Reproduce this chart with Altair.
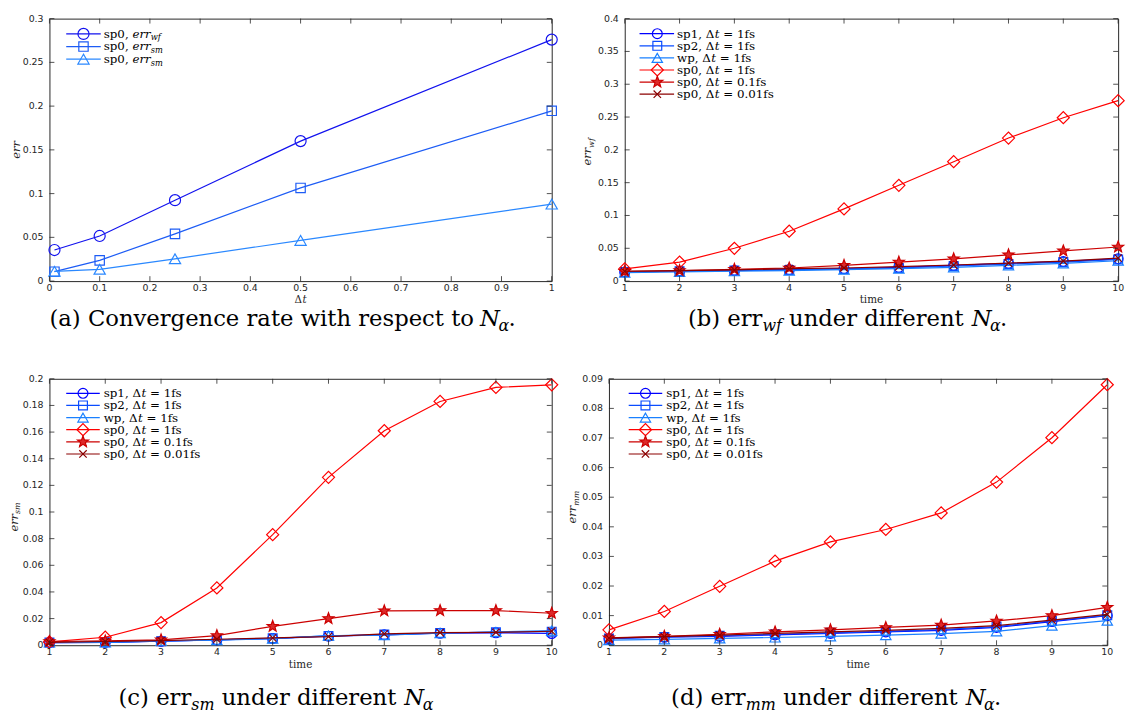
import math
import pandas as pd
import altair as alt

# ---------------- data ----------------
dt_values = [0.01, 0.1, 0.25, 0.5, 1.0]
a_err_wf = [0.0355, 0.0516, 0.0925, 0.1600, 0.2760]
a_err_sm = [0.0108, 0.0237, 0.0540, 0.1065, 0.1946]
a_err_mm = [0.0112, 0.0135, 0.0255, 0.0465, 0.0880]

time_steps = [1, 2, 3, 4, 5, 6, 7, 8, 9, 10]

b_sp1 = [0.0140, 0.0150, 0.0162, 0.0175, 0.0190, 0.0210, 0.0240, 0.0270, 0.0300, 0.0340]
b_sp2 = [0.0140, 0.0150, 0.0160, 0.0170, 0.0185, 0.0200, 0.0230, 0.0260, 0.0290, 0.0330]
b_wp = [0.0130, 0.0140, 0.0150, 0.0160, 0.0175, 0.0190, 0.0210, 0.0240, 0.0270, 0.0310]
b_sp0_1 = [0.0186, 0.0290, 0.0500, 0.0760, 0.1100, 0.1460, 0.1820, 0.2180, 0.2490, 0.2750]
b_sp0_01 = [0.0150, 0.0160, 0.0180, 0.0200, 0.0240, 0.0290, 0.0340, 0.0400, 0.0460, 0.0520]
b_sp0_001 = [0.0150, 0.0160, 0.0170, 0.0190, 0.0200, 0.0220, 0.0245, 0.0275, 0.0305, 0.0350]

c_sp1 = [0.0020, 0.0022, 0.0030, 0.0040, 0.0050, 0.0068, 0.0078, 0.0090, 0.0093, 0.0088]
c_sp2 = [0.0020, 0.0022, 0.0030, 0.0040, 0.0052, 0.0070, 0.0080, 0.0092, 0.0098, 0.0102]
c_wp = [0.0021, 0.0021, 0.0032, 0.0038, 0.0050, 0.0072, 0.0075, 0.0090, 0.0100, 0.0110]
c_sp0_1 = [0.0025, 0.0060, 0.0170, 0.0430, 0.0830, 0.1260, 0.1610, 0.1830, 0.1935, 0.1955]
c_sp0_01 = [0.0028, 0.0032, 0.0040, 0.0072, 0.0142, 0.0200, 0.0258, 0.0260, 0.0260, 0.0240]
c_sp0_001 = [0.0022, 0.0028, 0.0035, 0.0045, 0.0055, 0.0065, 0.0085, 0.0095, 0.0097, 0.0105]

d_sp1 = [0.0022, 0.0027, 0.0030, 0.0035, 0.0040, 0.0045, 0.0050, 0.0060, 0.0080, 0.0100]
d_sp2 = [0.0023, 0.0028, 0.0032, 0.0037, 0.0042, 0.0047, 0.0053, 0.0063, 0.0082, 0.0101]
d_wp = [0.0017, 0.0020, 0.0023, 0.0026, 0.0030, 0.0034, 0.0039, 0.0047, 0.0066, 0.0083]
d_sp0_1 = [0.0052, 0.0114, 0.0199, 0.0284, 0.0349, 0.0391, 0.0447, 0.0551, 0.0701, 0.0880]
d_sp0_01 = [0.0025, 0.0030, 0.0037, 0.0045, 0.0052, 0.0060, 0.0068, 0.0082, 0.0100, 0.0128]
d_sp0_001 = [0.0024, 0.0029, 0.0034, 0.0040, 0.0045, 0.0050, 0.0057, 0.0066, 0.0085, 0.0104]

a_x_ticks = [0, 0.1, 0.2, 0.3, 0.4, 0.5, 0.6, 0.7, 0.8, 0.9, 1]
a_y_ticks = [0, 0.05, 0.1, 0.15, 0.2, 0.25, 0.3]
b_y_ticks = [0, 0.05, 0.1, 0.15, 0.2, 0.25, 0.3, 0.35, 0.4]
c_y_ticks = [0, 0.02, 0.04, 0.06, 0.08, 0.1, 0.12, 0.14, 0.16, 0.18, 0.2]
d_y_ticks = [0, 0.01, 0.02, 0.03, 0.04, 0.05, 0.06, 0.07, 0.08, 0.09]

# legend label pieces: (text, italic, subscript)
a_labels = [
    [("sp0, ", False, False), ("err", True, False), ("wf", True, True)],
    [("sp0, ", False, False), ("err", True, False), ("sm", True, True)],
    [("sp0, ", False, False), ("err", True, False), ("sm", True, True)],
]
run_names = ["sp1", "sp2", "wp", "sp0", "sp0", "sp0"]
run_steps = ["1fs", "1fs", "1fs", "1fs", "0.1fs", "0.01fs"]
run_labels = [[(n + ", Δ", False, False), ("t", True, False), (" = " + s, False, False)]
              for n, s in zip(run_names, run_steps)]

# ---------------- styling ----------------
SERIF = "DejaVu Serif"
SANS = "DejaVu Sans"
INK = "#262626"


def star_path(ro=1.0, ri=0.42):
    pts = []
    for k in range(10):
        r = ro if k % 2 == 0 else ri
        ang = math.radians(-90 + 36 * k)
        pts.append(f"{r * math.cos(ang):.3f},{r * math.sin(ang):.3f}")
    return "M" + "L".join(pts) + "Z"


STAR = star_path()
XMARK = "M-0.75,-0.75L0.75,0.75M-0.75,0.75L0.75,-0.75"

A_STYLES = [
    dict(color="#1212ee", shape="circle", size=125),
    dict(color="#1d5cf5", shape="square", size=90),
    dict(color="#2a88ff", shape="triangle-up", size=130),
]
RUN_STYLES = [
    dict(color="#0000ff", shape="circle", size=100),
    dict(color="#0a4cff", shape="square", size=80),
    dict(color="#1a80ff", shape="triangle-up", size=110),
    dict(color="#ff0000", shape="diamond", size=150),
    dict(color="#cc0000", shape=STAR, size=140, fill="#dd2a2a"),
    dict(color="#8b0000", shape=XMARK, size=100),
]

# DejaVu Serif advance widths (em) for laying out mixed-style text
WID = {" ": .318, "a": .596, "b": .640, "c": .560, "d": .640, "e": .592, "f": .370,
       "g": .640, "h": .644, "i": .320, "l": .320, "m": .952, "n": .644, "o": .602,
       "p": .640, "r": .478, "s": .512, "t": .402, "u": .644, "v": .566, "w": .852,
       "(": .390, ")": .390, ",": .318, ".": .318, "=": .838, "C": .715, "N": .810,
       "Δ": .763, "α": .630}
for _d in "0123456789":
    WID[_d] = .636


def tw(s):
    return sum(WID.get(ch, .6) for ch in s)


def rich(parts, x0, y0, fs, angle=0, color="black"):
    """Lay out a run of (text, italic, subscript) pieces; returns rows."""
    rows = []
    pos = 0.0
    for txt, ital, sub in parts:
        size = fs * 0.7 if sub else fs
        drop = fs * 0.22 if sub else 0.0
        lead = len(txt) - len(txt.lstrip(" "))
        trail = len(txt) - len(txt.rstrip(" "))
        core = txt.strip(" ")
        pos += lead * WID[" "] * size
        if angle == 0:
            px, py = x0 + pos, y0 + drop
        else:  # 270: text runs upward, subscript drops to the right
            px, py = x0 + drop, y0 - pos
        rows.append(dict(txt=core, px=px, py=py, fs=size, it=ital, ang=angle, col=color))
        pos += tw(core) * size + trail * WID[" "] * size
    return rows


def rich_width(parts, fs):
    return sum(tw(t) * (fs * 0.7 if s else fs) for t, _, s in parts)


def text_layers(rows):
    df = pd.DataFrame(rows)
    out = []
    for (ital, ang, col), g in df.groupby(["it", "ang", "col"]):
        out.append(
            alt.Chart(g.reset_index(drop=True)).mark_text(
                font=SERIF, fontStyle="italic" if ital else "normal", angle=int(ang),
                align="left", baseline="alphabetic", color=col
            ).encode(
                x=alt.X("px:Q", scale=None, axis=None),
                y=alt.Y("py:Q", scale=None, axis=None),
                text="txt:N",
                size=alt.Size("fs:Q", scale=None, legend=None),
            )
        )
    return out


def build_panel(W, H, xvals, series, styles, labels, xdom, xticks, ydom, yticks,
                leg, caption, cap_x, cap_dy, xtitle, xtitle_dy, ytitle, ytitle_xy):
    xs = alt.Scale(domain=xdom, nice=False, zero=False)
    ys = alt.Scale(domain=ydom, nice=False, zero=False)
    layers = []
    for yvals, st in zip(series, styles):
        df = pd.DataFrame({"x": xvals, "y": yvals})
        layers.append(alt.Chart(df).mark_line(color=st["color"], strokeWidth=1.2).encode(
            x=alt.X("x:Q", scale=xs, axis=None), y=alt.Y("y:Q", scale=ys, axis=None)))
        pkw = dict(shape=st["shape"], size=st["size"], stroke=st["color"], strokeWidth=1.2,
                   opacity=1, filled=False)
        if "fill" in st:
            pkw["fill"] = st["fill"]
        layers.append(alt.Chart(df).mark_point(**pkw).encode(
            x=alt.X("x:Q", scale=xs, axis=None), y=alt.Y("y:Q", scale=ys, axis=None)))

    # inward ticks on all four sides + tick labels
    xt = pd.DataFrame({"v": xticks, "lab": [f"{v:g}" for v in xticks]})
    yt = pd.DataFrame({"v": yticks, "lab": [f"{v:g}" for v in yticks]})
    for y0, y1 in [(H, H - 5), (0, 5)]:
        layers.append(alt.Chart(xt).mark_rule(color=INK, strokeWidth=0.8).encode(
            x=alt.X("v:Q", scale=xs, axis=None), y=alt.value(y0), y2=alt.value(y1)))
    for x0, x1 in [(0, 5), (W, W - 5)]:
        layers.append(alt.Chart(yt).mark_rule(color=INK, strokeWidth=0.8).encode(
            y=alt.Y("v:Q", scale=ys, axis=None), x=alt.value(x0), x2=alt.value(x1)))
    layers.append(alt.Chart(xt).mark_text(font=SANS, fontSize=9.5, color=INK, align="center",
                                          baseline="top").encode(
        x=alt.X("v:Q", scale=xs, axis=None), y=alt.value(H + 2), text="lab:N"))
    layers.append(alt.Chart(yt).mark_text(font=SANS, fontSize=9.5, color=INK, align="right",
                                          baseline="middle").encode(
        y=alt.Y("v:Q", scale=ys, axis=None), x=alt.value(-6), text="lab:N"))

    # legend (no box)
    lx0, lx1, lm, ltx, ly0, ldy = leg
    rows = []
    for i, (st, lab) in enumerate(zip(styles, labels)):
        yy = ly0 + ldy * i
        one = pd.DataFrame({"py": [yy]})
        layers.append(alt.Chart(one).mark_rule(color=st["color"], strokeWidth=1.2).encode(
            x=alt.value(lx0), x2=alt.value(lx1), y=alt.Y("py:Q", scale=None, axis=None)))
        pkw = dict(shape=st["shape"], size=st["size"], stroke=st["color"], strokeWidth=1.2,
                   opacity=1, filled=False)
        if "fill" in st:
            pkw["fill"] = st["fill"]
        layers.append(alt.Chart(one).mark_point(**pkw).encode(
            x=alt.value(lm), y=alt.Y("py:Q", scale=None, axis=None)))
        rows += rich(lab, ltx, yy + 4, 12)

    # caption, axis titles
    rows += rich(caption, cap_x, H + cap_dy, 23)
    rows += rich(xtitle, W / 2 - rich_width(xtitle, 10.5) / 2, H + xtitle_dy, 10.5, color=INK)
    tx, ty = ytitle_xy
    rows += rich(ytitle, tx, ty + rich_width(ytitle, 11.5) / 2, 11.5, angle=270, color=INK)
    layers += text_layers(rows)
    return alt.layer(*layers).properties(width=W, height=H)


time_label = [("time", False, False)]
dt_label = [("Δ", False, False), ("t", True, False)]

H1, H2 = 266, 270

pa = build_panel(
    509, H1, dt_values, [a_err_wf, a_err_sm, a_err_mm], A_STYLES, a_labels,
    [0, 1], a_x_ticks, [0, 0.3], a_y_ticks,
    (17, 52, 34.5, 55, 15.5, 12.8),
    [("(a) Convergence rate with respect to ", False, False), ("N", True, False),
     ("α", True, True), (".", False, False)], 0, 46,
    dt_label, 22, [("err", True, False)], (-30, 133))

pb = build_panel(
    500, H1, time_steps, [b_sp1, b_sp2, b_wp, b_sp0_1, b_sp0_01, b_sp0_001], RUN_STYLES,
    run_labels, [1, 10], time_steps, [0, 0.4], b_y_ticks,
    (15, 50, 33, 53, 15.3, 12.25),
    [("(b) err", False, False), ("wf", True, True), (" under different ", False, False),
     ("N", True, False), ("α", True, True), (".", False, False)], 64, 46,
    time_label, 22, [("err", True, False), ("wf", True, True)], (-34, 135))

pc = build_panel(
    509, H2, time_steps, [c_sp1, c_sp2, c_wp, c_sp0_1, c_sp0_01, c_sp0_001], RUN_STYLES,
    run_labels, [1, 10], time_steps, [0, 0.2], c_y_ticks,
    (17, 51, 34, 55, 14.7, 12.3),
    [("(c) err", False, False), ("sm", True, True), (" under different ", False, False),
     ("N", True, False), ("α", True, True)], 70, 61,
    time_label, 23, [("err", True, False), ("sm", True, True)], (-32, 140))

pd_ = build_panel(
    505, H2, time_steps, [d_sp1, d_sp2, d_wp, d_sp0_1, d_sp0_01, d_sp0_001], RUN_STYLES,
    run_labels, [1, 10], time_steps, [0, 0.09], d_y_ticks,
    (20, 54, 37, 58, 14.7, 12.3),
    [("(d) err", False, False), ("mm", True, True), (" under different ", False, False),
     ("N", True, False), ("α", True, True), (".", False, False)], 63, 61,
    time_label, 23, [("err", True, False), ("mm", True, True)], (-33, 130))

row1 = alt.hconcat(pa, pb, spacing=74, bounds="flush")
row2 = alt.hconcat(pc, pd_, spacing=58, bounds="flush")
chart = alt.vconcat(row1, row2, spacing=38).configure_view(
    stroke=INK, strokeWidth=1
).properties(padding={"left": 0, "top": 0, "right": 0, "bottom": 0}, background="white")

chart.save("out.html", embed_options={"renderer": "svg", "actions": False})
